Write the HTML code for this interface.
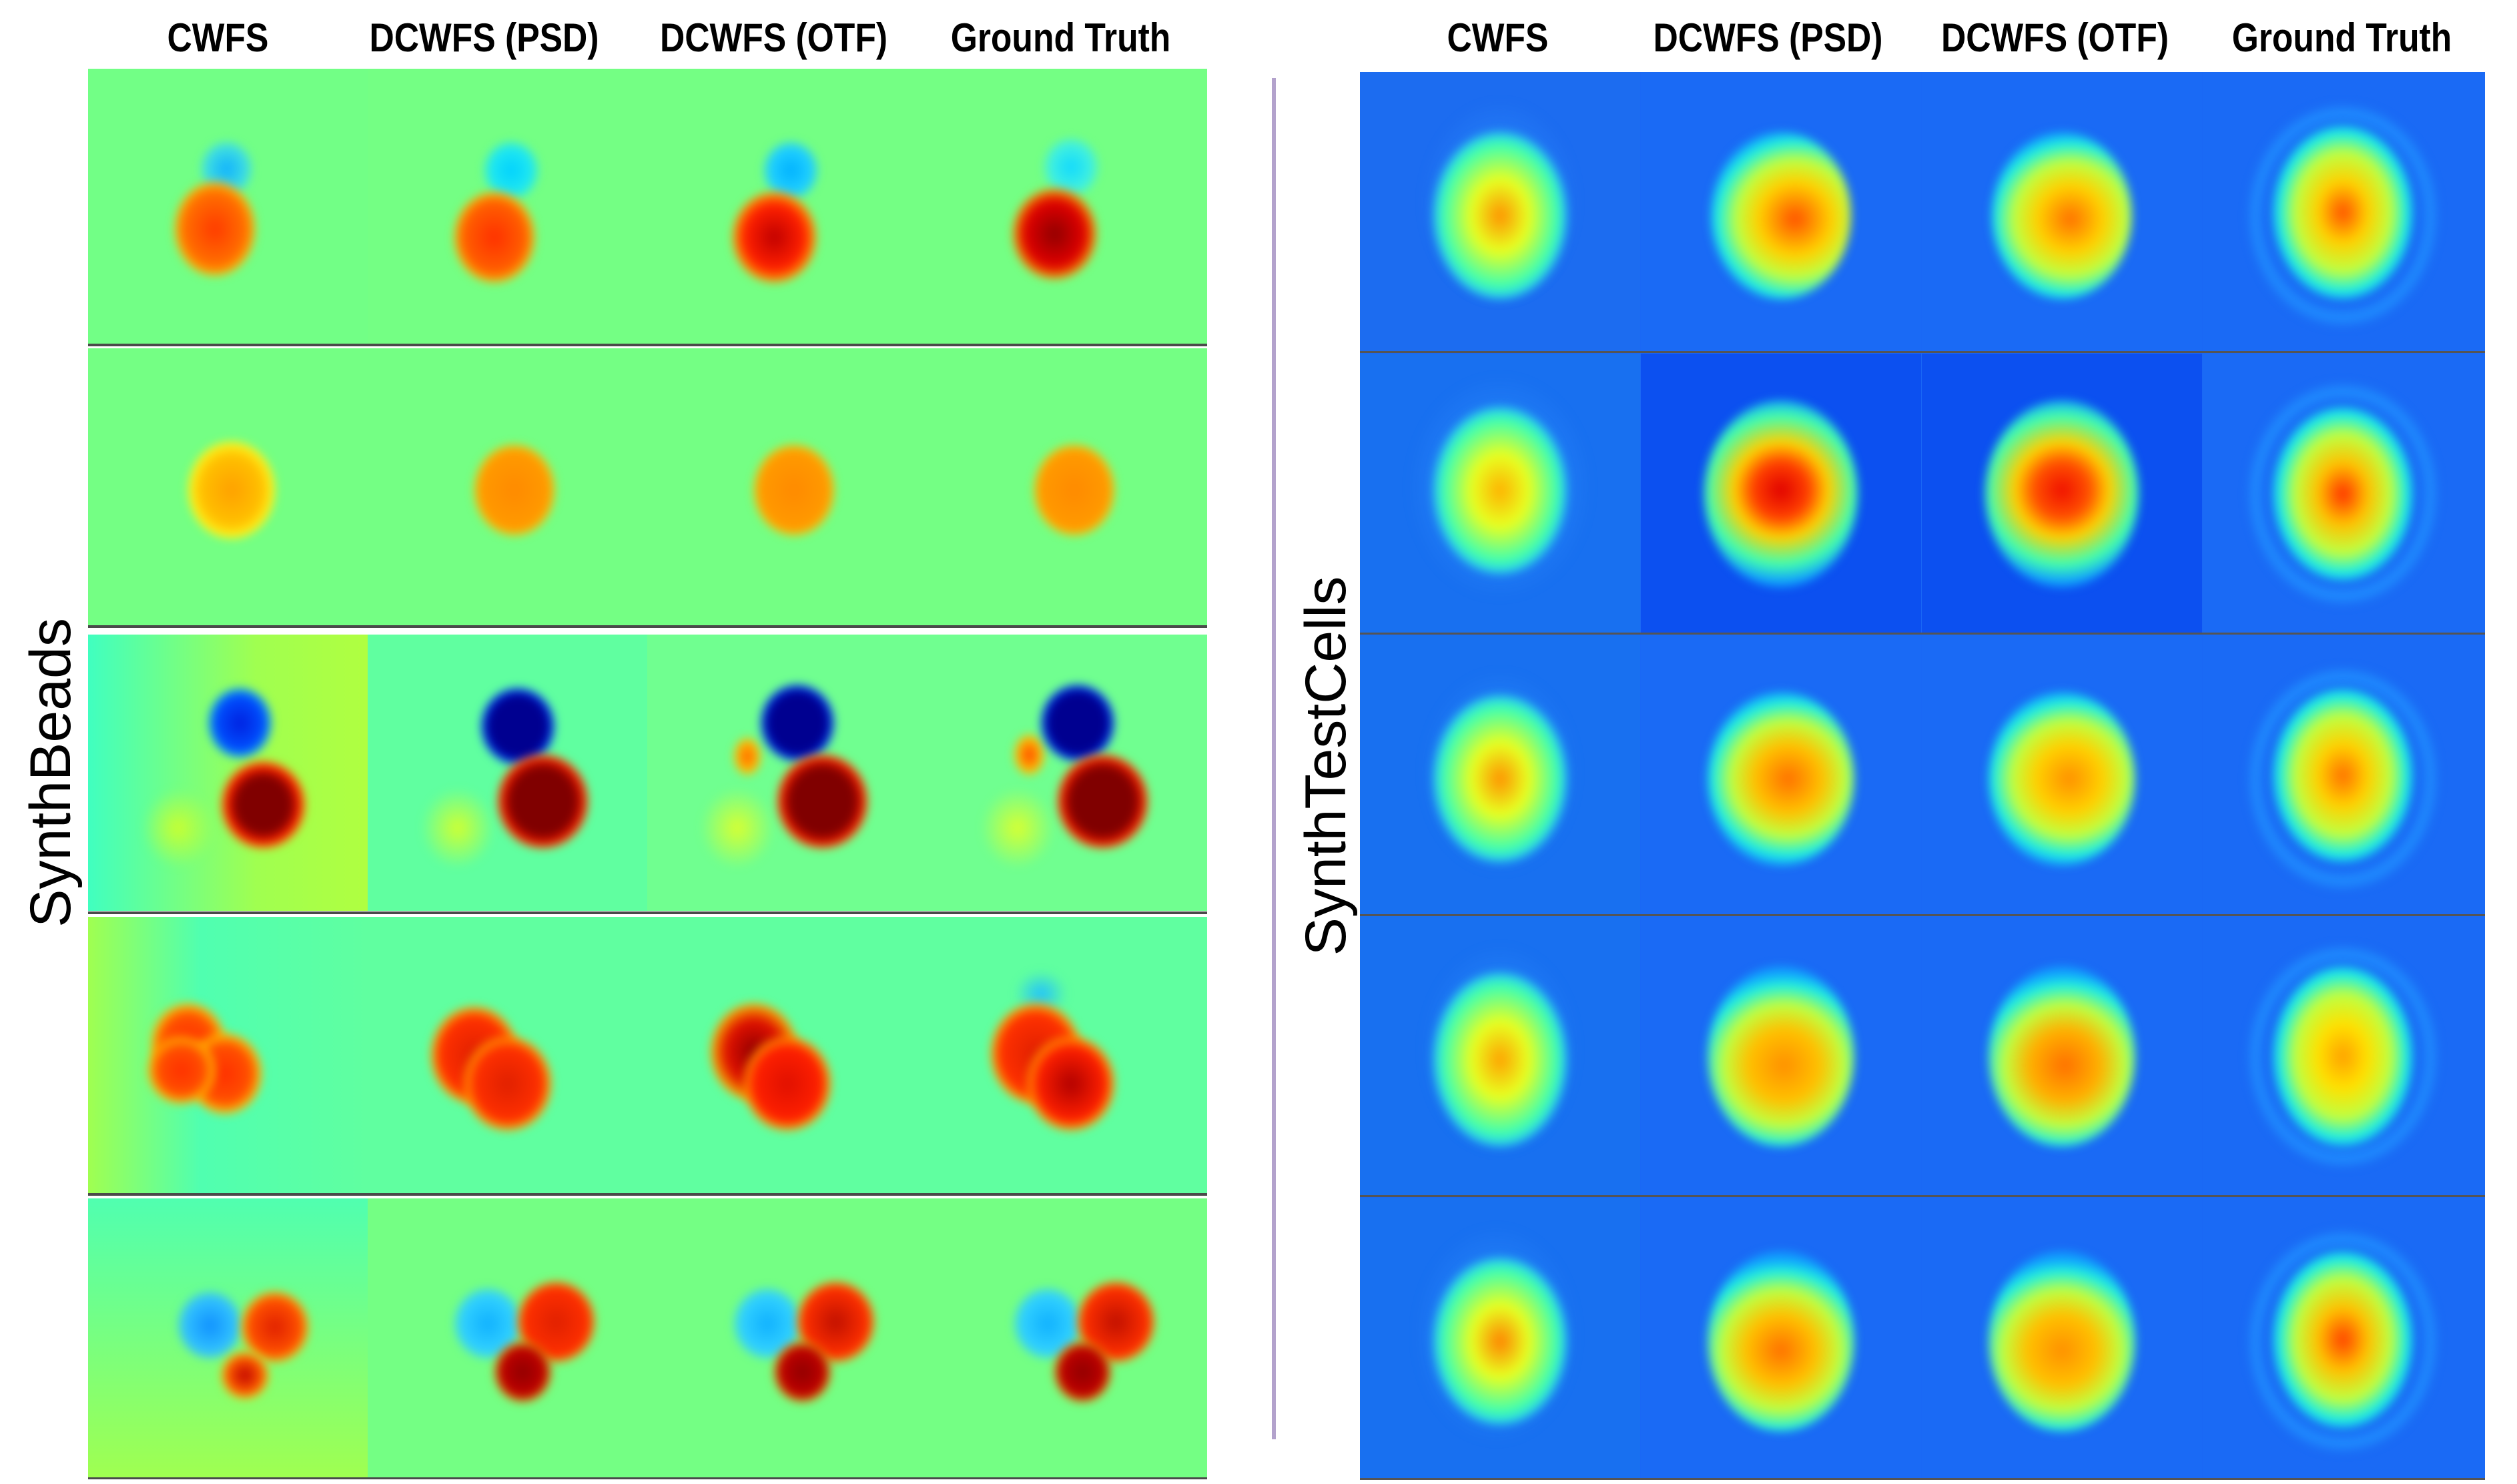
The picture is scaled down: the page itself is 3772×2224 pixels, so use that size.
<!DOCTYPE html>
<html><head><meta charset="utf-8"><style>
body{margin:0;width:3772px;height:2224px;background:#fff;position:relative;overflow:hidden;font-family:"Liberation Sans",sans-serif}
.t{position:absolute;top:22px;font-weight:bold;font-size:60px;transform:scaleX(0.86);transform-origin:center;width:419px;text-align:center;white-space:nowrap;color:#000}
.c{position:absolute;width:420px;overflow:hidden}
.L{background:#74ff84}
.R{background:#1a6af5}
.line{position:absolute;height:4px;background:#4a4a4a}
.b{position:absolute;border-radius:50%;filter:blur(7px)}
.side{position:absolute;font-size:86px;color:#000;transform:rotate(-90deg);transform-origin:center;white-space:nowrap;text-align:center;width:700px;height:100px;line-height:100px}
</style></head><body>
<div class="t" style="left:117px">CWFS</div>
<div class="t" style="left:516px">DCWFS (PSD)</div>
<div class="t" style="left:950px">DCWFS (OTF)</div>
<div class="t" style="left:1380px">Ground Truth</div>
<div class="t" style="left:2035px">CWFS</div>
<div class="t" style="left:2440px">DCWFS (PSD)</div>
<div class="t" style="left:2870px">DCWFS (OTF)</div>
<div class="t" style="left:3300px">Ground Truth</div>

<div class="side" style="left:-274px;top:1108px">SynthBeads</div>
<div class="side" style="left:1637px;top:1098px">SynthTestCells</div>
<div style="position:absolute;left:1906px;top:117px;width:6px;height:2040px;background:#b3a2cc"></div>

<!-- Row 1 -->
<div class="c L" style="left:132px;top:103px;height:412px;background:#72ff86"><div class="b" style="left:170px;top:110px;width:75px;height:80px;background:radial-gradient(#10b0ff,#40e0e0 60%,transparent)"></div><div class="b" style="left:130px;top:170px;width:120px;height:140px;background:radial-gradient(#ff3a00,#ff7000 55%,#ffd000 75%,transparent)"></div></div>
<div class="c L" style="left:551px;top:103px;height:412px"><div class="b" style="left:175px;top:110px;width:80px;height:85px;background:radial-gradient(#00d0ff,#20e8f0 55%,transparent)"></div><div class="b" style="left:130px;top:185px;width:120px;height:135px;background:radial-gradient(#ff3000,#ff6000 55%,#ffe000 78%,transparent)"></div></div>
<div class="c L" style="left:970px;top:103px;height:412px"><div class="b" style="left:175px;top:110px;width:80px;height:85px;background:radial-gradient(#00b0ff,#20d0ff 55%,transparent)"></div><div class="b" style="left:128px;top:185px;width:125px;height:135px;background:radial-gradient(#c00000,#ff2000 50%,#ffd000 78%,transparent)"></div></div>
<div class="c L" style="left:1390px;top:103px;height:412px;width:419px"><div class="b" style="left:175px;top:105px;width:80px;height:85px;background:radial-gradient(#10d8ff,#40f0e0 55%,transparent)"></div><div class="b" style="left:128px;top:180px;width:125px;height:135px;background:radial-gradient(#900000,#e00000 50%,#ffd000 78%,transparent)"></div></div>
<div class="line" style="left:132px;top:515px;width:1677px"></div>
<!-- Row 2 -->
<div class="c L" style="left:132px;top:522px;height:415px"><div class="b" style="left:150px;top:140px;width:130px;height:145px;background:radial-gradient(#ffa000,#ffc000 50%,#ffff20 72%,transparent)"></div></div>
<div class="c L" style="left:551px;top:522px;height:415px"><div class="b" style="left:160px;top:145px;width:120px;height:135px;background:radial-gradient(#ff8a00,#ff9a00 60%,#ffe000 78%,transparent)"></div></div>
<div class="c L" style="left:970px;top:522px;height:415px"><div class="b" style="left:160px;top:145px;width:120px;height:135px;background:radial-gradient(#ff8a00,#ff9a00 60%,#ffe000 78%,transparent)"></div></div>
<div class="c L" style="left:1390px;top:522px;height:415px;width:419px"><div class="b" style="left:160px;top:145px;width:120px;height:135px;background:radial-gradient(#ff8a00,#ff9a00 60%,#ffe000 78%,transparent)"></div></div>
<div class="line" style="left:132px;top:937px;width:1677px"></div>
<!-- Row 3 -->
<div class="c L" style="left:132px;top:951px;height:414px;background:linear-gradient(90deg,#40ffc0,#a0ff50 60%,#b0ff40)"><div class="b" style="left:80px;top:230px;width:110px;height:120px;background:radial-gradient(#c8ff30,transparent 70%)"></div><div class="b" style="left:180px;top:80px;width:95px;height:105px;background:radial-gradient(#0020e0,#0050ff 55%,#20e0e0 75%,transparent)"></div><div class="b" style="left:200px;top:190px;width:125px;height:130px;background:radial-gradient(#800000,#800000 45%,#ff2000 62%,#ffd000 78%,transparent)"></div></div>
<div class="c L" style="left:551px;top:951px;height:414px;background:#60ffa0"><div class="b" style="left:80px;top:230px;width:110px;height:120px;background:radial-gradient(#d0ff30,transparent 72%)"></div><div class="b" style="left:170px;top:80px;width:110px;height:115px;background:radial-gradient(#000090,#000090 55%,#0040ff 68%,#40e0ff 78%,transparent)"></div><div class="b" style="left:195px;top:180px;width:135px;height:140px;background:radial-gradient(#800000,#800000 50%,#ff2000 66%,#ffe000 78%,transparent)"></div></div>
<div class="c L" style="left:970px;top:951px;height:414px;background:#70ff90"><div class="b" style="left:80px;top:230px;width:110px;height:120px;background:radial-gradient(#d8ff30,transparent 72%)"></div><div class="b" style="left:130px;top:155px;width:40px;height:55px;background:radial-gradient(#ff6000,#ffc000 60%,transparent)"></div><div class="b" style="left:170px;top:75px;width:110px;height:115px;background:radial-gradient(#000090,#000090 55%,#0040ff 68%,#40e0ff 78%,transparent)"></div><div class="b" style="left:195px;top:180px;width:135px;height:140px;background:radial-gradient(#800000,#800000 50%,#ff2000 66%,#ffe000 78%,transparent)"></div></div>
<div class="c L" style="left:1390px;top:951px;height:414px;width:419px;background:#70ff90"><div class="b" style="left:80px;top:230px;width:110px;height:120px;background:radial-gradient(#d8ff30,transparent 72%)"></div><div class="b" style="left:130px;top:150px;width:45px;height:60px;background:radial-gradient(#ff4000,#ffc000 60%,transparent)"></div><div class="b" style="left:170px;top:75px;width:110px;height:115px;background:radial-gradient(#000090,#000090 55%,#0040ff 68%,#40e0ff 78%,transparent)"></div><div class="b" style="left:195px;top:180px;width:135px;height:140px;background:radial-gradient(#800000,#800000 50%,#ff2000 66%,#ffe000 78%,transparent)"></div></div>
<div class="line" style="left:132px;top:1366px;width:1677px"></div>
<!-- Row 4 -->
<div class="c L" style="left:132px;top:1374px;height:414px;background:linear-gradient(90deg,#a0ff50,#50ffb0 40%,#60ffa0)"><div class="b" style="left:95px;top:130px;width:110px;height:120px;background:radial-gradient(#ff3000,#ff5000 50%,#ffd000 72%,transparent)"></div><div class="b" style="left:150px;top:175px;width:110px;height:120px;background:radial-gradient(#ff3000,#ff5000 50%,#ffd000 72%,transparent)"></div><div class="b" style="left:90px;top:180px;width:100px;height:100px;background:radial-gradient(#ff3000,#ff5000 50%,#ffd000 72%,transparent)"></div></div>
<div class="c L" style="left:551px;top:1374px;height:414px;background:#60ffa0"><div class="b" style="left:95px;top:135px;width:130px;height:145px;background:radial-gradient(#e02000,#ff3000 55%,#ffd000 75%,transparent)"></div><div class="b" style="left:145px;top:180px;width:130px;height:140px;background:radial-gradient(#e02000,#ff3000 55%,#ffd000 75%,transparent)"></div></div>
<div class="c L" style="left:970px;top:1374px;height:414px;background:#60ffa0"><div class="b" style="left:95px;top:130px;width:130px;height:145px;background:radial-gradient(#900000,#e01000 45%,#ffd000 75%,transparent)"></div><div class="b" style="left:145px;top:180px;width:130px;height:140px;background:radial-gradient(#e01000,#ff2000 55%,#ffd000 75%,transparent)"></div></div>
<div class="c L" style="left:1390px;top:1374px;height:414px;width:419px;background:#60ffa0"><div class="b" style="left:130px;top:80px;width:80px;height:70px;background:radial-gradient(#20c0ff,transparent 70%)"></div><div class="b" style="left:95px;top:130px;width:135px;height:150px;background:radial-gradient(#e02000,#ff3000 55%,#ffd000 75%,transparent)"></div><div class="b" style="left:150px;top:180px;width:130px;height:140px;background:radial-gradient(#b00000,#ff2000 55%,#ffd000 75%,transparent)"></div></div>
<div class="line" style="left:132px;top:1788px;width:1677px"></div>
<!-- Row 5 -->
<div class="c L" style="left:132px;top:1796px;height:420px;background:linear-gradient(180deg,#50ffb0,#a0ff50)"><div class="b" style="left:135px;top:140px;width:95px;height:100px;background:radial-gradient(#1090ff,#30c0ff 55%,transparent)"></div><div class="b" style="left:230px;top:140px;width:100px;height:105px;background:radial-gradient(#e02000,#ff5000 55%,#ffd000 75%,transparent)"></div><div class="b" style="left:200px;top:230px;width:70px;height:70px;background:radial-gradient(#c00000,#ff6000 55%,#ffe000 75%,transparent)"></div></div>
<div class="c L" style="left:551px;top:1796px;height:420px"><div class="b" style="left:130px;top:135px;width:100px;height:105px;background:radial-gradient(#10b0ff,#30d0ff 55%,transparent)"></div><div class="b" style="left:225px;top:125px;width:115px;height:120px;background:radial-gradient(#e02000,#ff3000 60%,#ffd000 78%,transparent)"></div><div class="b" style="left:190px;top:215px;width:85px;height:90px;background:radial-gradient(#900000,#c00000 55%,#ffd000 78%,transparent)"></div></div>
<div class="c L" style="left:970px;top:1796px;height:420px"><div class="b" style="left:130px;top:135px;width:100px;height:105px;background:radial-gradient(#10b0ff,#30d0ff 55%,transparent)"></div><div class="b" style="left:225px;top:125px;width:115px;height:120px;background:radial-gradient(#c01000,#ff3000 60%,#ffd000 78%,transparent)"></div><div class="b" style="left:190px;top:215px;width:85px;height:90px;background:radial-gradient(#900000,#c00000 55%,#ffd000 78%,transparent)"></div></div>
<div class="c L" style="left:1390px;top:1796px;height:420px;width:419px"><div class="b" style="left:130px;top:135px;width:100px;height:105px;background:radial-gradient(#10b0ff,#30d0ff 55%,transparent)"></div><div class="b" style="left:225px;top:125px;width:115px;height:120px;background:radial-gradient(#c01000,#ff3000 60%,#ffd000 78%,transparent)"></div><div class="b" style="left:190px;top:215px;width:85px;height:90px;background:radial-gradient(#900000,#c00000 55%,#ffd000 78%,transparent)"></div></div>
<div class="line" style="left:132px;top:2214px;width:1677px;height:3px"></div>

<!-- RIGHT PANEL -->
<div style="position:absolute;left:2038px;top:108px;width:1686px;height:2108px;background:#1a68f5"></div>
<div class="c R" style="left:2038px;top:108px;height:418px;background:#1c6cf0"><div class="b" style="left:90px;top:40px;width:240px;height:310px;background:radial-gradient(#3090ff,transparent 70%)"></div><div class="b" style="left:110px;top:90px;width:200px;height:250px;background:radial-gradient(#ff9000,#e8ff20 30%,#40ffb0 60%,#20c0ff 72%,transparent)"></div></div>
<div class="c R" style="left:2459px;top:108px;height:418px"><div class="b" style="left:105px;top:90px;width:210px;height:250px;background:radial-gradient(circle at 60% 52%,#ff5000,#ffd000 30%,#c0ff40 48%,#20f0e0 64%,#10a0ff 74%,transparent)"></div></div>
<div class="c R" style="left:2880px;top:108px;height:418px"><div class="b" style="left:105px;top:90px;width:210px;height:250px;background:radial-gradient(circle at 56% 52%,#ff7000,#ffd000 28%,#c0ff40 48%,#20f0e0 64%,#10a0ff 74%,transparent)"></div></div>
<div class="c R" style="left:3301px;top:108px;height:418px;width:423px"><div class="b" style="left:60px;top:40px;width:300px;height:350px;background:radial-gradient(transparent 55%,#2090ff 62%,transparent 68%)"></div><div class="b" style="left:105px;top:80px;width:210px;height:260px;background:radial-gradient(#ff5000,#ffd000 25%,#c0ff40 48%,#20f0e0 64%,#10a0ff 74%,transparent)"></div></div>
<div class="line" style="left:2038px;top:526px;width:1686px;height:3px;background:#555"></div>

<div class="c R" style="left:2038px;top:530px;height:418px;background:#1870f0"><div class="b" style="left:70px;top:30px;width:280px;height:340px;background:radial-gradient(#3090ff,transparent 70%)"></div><div class="b" style="left:110px;top:80px;width:200px;height:250px;background:radial-gradient(#ffb000,#e8ff20 30%,#40ffb0 60%,#20c0ff 72%,transparent)"></div></div>
<div class="c R" style="left:2459px;top:530px;height:418px;background:#0c50f0"><div class="b" style="left:95px;top:70px;width:230px;height:280px;background:radial-gradient(circle at 50% 48%,#e00000,#ff4000 22%,#ffd000 38%,#40ffb0 60%,#10a0ff 74%,transparent)"></div></div>
<div class="c R" style="left:2880px;top:530px;height:418px;background:#0c50f0"><div class="b" style="left:95px;top:70px;width:230px;height:280px;background:radial-gradient(circle at 50% 48%,#f01000,#ff5000 22%,#ffd000 38%,#40ffb0 60%,#10a0ff 74%,transparent)"></div></div>
<div class="c R" style="left:3301px;top:530px;height:418px;width:423px"><div class="b" style="left:60px;top:35px;width:300px;height:350px;background:radial-gradient(transparent 55%,#2090ff 62%,transparent 68%)"></div><div class="b" style="left:105px;top:80px;width:210px;height:260px;background:radial-gradient(#ff3000,#ffc000 25%,#c0ff40 48%,#20f0e0 64%,#10a0ff 74%,transparent)"></div></div>
<div class="line" style="left:2038px;top:948px;width:1686px;height:3px;background:#555"></div>

<div class="c R" style="left:2038px;top:952px;height:418px;background:#1870f0"><div class="b" style="left:90px;top:50px;width:240px;height:310px;background:radial-gradient(#3090ff,transparent 70%)"></div><div class="b" style="left:110px;top:90px;width:200px;height:250px;background:radial-gradient(#ff9000,#e8ff20 30%,#40ffb0 60%,#20c0ff 72%,transparent)"></div></div>
<div class="c R" style="left:2459px;top:952px;height:418px"><div class="b" style="left:100px;top:85px;width:220px;height:260px;background:radial-gradient(circle at 55% 50%,#ff7000,#ffc000 28%,#c0ff40 48%,#20f0e0 64%,#10a0ff 74%,transparent)"></div></div>
<div class="c R" style="left:2880px;top:952px;height:418px"><div class="b" style="left:100px;top:85px;width:220px;height:260px;background:radial-gradient(circle at 55% 50%,#ff9000,#ffd000 28%,#c0ff40 48%,#20f0e0 64%,#10a0ff 74%,transparent)"></div></div>
<div class="c R" style="left:3301px;top:952px;height:418px;width:423px"><div class="b" style="left:60px;top:40px;width:300px;height:350px;background:radial-gradient(transparent 55%,#2090ff 62%,transparent 68%)"></div><div class="b" style="left:105px;top:80px;width:210px;height:260px;background:radial-gradient(#ff7000,#ffd000 25%,#c0ff40 48%,#20f0e0 64%,#10a0ff 74%,transparent)"></div></div>
<div class="line" style="left:2038px;top:1370px;width:1686px;height:3px;background:#555"></div>

<div class="c R" style="left:2038px;top:1373px;height:418px;background:#1870f0"><div class="b" style="left:90px;top:40px;width:240px;height:320px;background:radial-gradient(#3090ff,transparent 70%)"></div><div class="b" style="left:110px;top:85px;width:200px;height:260px;background:radial-gradient(#ffa000,#e8ff20 30%,#40ffb0 60%,#20c0ff 72%,transparent)"></div></div>
<div class="c R" style="left:2459px;top:1373px;height:418px"><div class="b" style="left:100px;top:75px;width:220px;height:270px;background:radial-gradient(circle at 52% 55%,#ff9000,#ffc000 28%,#c0ff40 48%,#20f0e0 64%,#10a0ff 74%,transparent)"></div></div>
<div class="c R" style="left:2880px;top:1373px;height:418px"><div class="b" style="left:100px;top:75px;width:220px;height:270px;background:radial-gradient(circle at 52% 55%,#ff7000,#ffb000 28%,#c0ff40 48%,#20f0e0 64%,#10a0ff 74%,transparent)"></div></div>
<div class="c R" style="left:3301px;top:1373px;height:418px;width:423px"><div class="b" style="left:60px;top:35px;width:300px;height:350px;background:radial-gradient(transparent 55%,#2090ff 62%,transparent 68%)"></div><div class="b" style="left:105px;top:75px;width:210px;height:270px;background:radial-gradient(#ffa000,#ffe000 25%,#c0ff40 48%,#20f0e0 64%,#10a0ff 74%,transparent)"></div></div>
<div class="line" style="left:2038px;top:1791px;width:1686px;height:3px;background:#555"></div>

<div class="c R" style="left:2038px;top:1795px;height:420px;background:#1870f0"><div class="b" style="left:80px;top:40px;width:250px;height:330px;background:radial-gradient(#3090ff,transparent 70%)"></div><div class="b" style="left:110px;top:90px;width:200px;height:250px;background:radial-gradient(#ff8000,#e8ff20 30%,#40ffb0 60%,#20c0ff 72%,transparent)"></div></div>
<div class="c R" style="left:2459px;top:1795px;height:420px"><div class="b" style="left:100px;top:80px;width:220px;height:270px;background:radial-gradient(circle at 50% 55%,#ff7000,#ffc000 28%,#c0ff40 48%,#20f0e0 64%,#10a0ff 74%,transparent)"></div></div>
<div class="c R" style="left:2880px;top:1795px;height:420px"><div class="b" style="left:100px;top:80px;width:220px;height:270px;background:radial-gradient(circle at 50% 55%,#ff9000,#ffc000 28%,#c0ff40 48%,#20f0e0 64%,#10a0ff 74%,transparent)"></div></div>
<div class="c R" style="left:3301px;top:1795px;height:420px;width:423px"><div class="b" style="left:60px;top:40px;width:300px;height:350px;background:radial-gradient(transparent 55%,#2090ff 62%,transparent 68%)"></div><div class="b" style="left:105px;top:80px;width:210px;height:265px;background:radial-gradient(#ff4000,#ffc000 25%,#c0ff40 48%,#20f0e0 64%,#10a0ff 74%,transparent)"></div></div>
<div class="line" style="left:2038px;top:2215px;width:1686px;height:3px;background:#555"></div>
</body></html>
